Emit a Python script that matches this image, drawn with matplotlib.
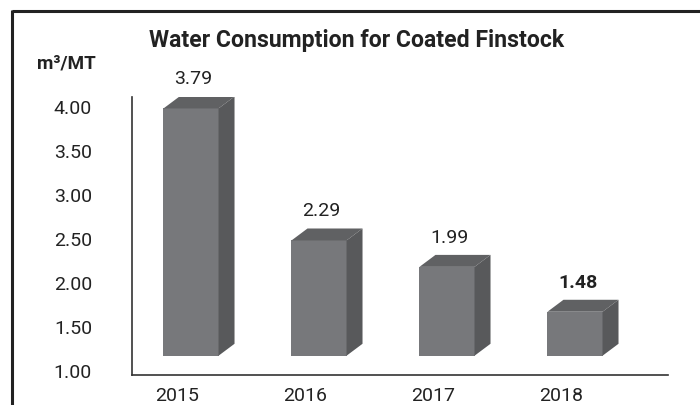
import matplotlib
matplotlib.use("Agg")
import matplotlib.pyplot as plt
import matplotlib.transforms as mtransforms
from matplotlib.patches import Polygon
from matplotlib.lines import Line2D

# ---- data ----
years = ["2015", "2016", "2017", "2018"]
values = [3.79, 2.29, 1.99, 1.48]
bold_flags = [False, False, False, True]
yticks = [1.00, 1.50, 2.00, 2.50, 3.00, 3.50, 4.00]
title = "Water Consumption for Coated Finstock"
unit_label = "m³/MT"

# ---- style ----
FRONT = "#77787b"
TOP = "#606163"
SIDE = "#58595b"
TXT = "#222222"
BAR_W = 0.43
DEPTH_X = 0.125   # data units
DEPTH_Y = 0.136
BASE = 0.98
FS = 14

plt.rcParams['font.family'] = ['Roboto', 'DejaVu Sans']

fig = plt.figure(figsize=(7.0, 4.06), dpi=100)
ax = fig.add_axes([132/700, 30/406, (668-132)/700, (376-98)/406])
ax.set_xlim(-0.3516, 3.836)
ax.set_ylim(0.943, 4.102)

shift = mtransforms.offset_copy(ax.transData, fig=fig, x=14, y=16, units='dots')

for i, v in enumerate(values):
    x0 = i - BAR_W/2
    x1 = i + BAR_W/2
    front = Polygon([(x0, BASE), (x1, BASE), (x1, v), (x0, v)], closed=True,
                    facecolor=FRONT, edgecolor='none', transform=shift, zorder=3)
    top = Polygon([(x0, v), (x1, v), (x1 + DEPTH_X, v + DEPTH_Y), (x0 + DEPTH_X, v + DEPTH_Y)],
                  closed=True, facecolor=TOP, edgecolor='none', transform=shift, zorder=3)
    side = Polygon([(x1, BASE), (x1 + DEPTH_X, BASE + DEPTH_Y), (x1 + DEPTH_X, v + DEPTH_Y), (x1, v)],
                   closed=True, facecolor=SIDE, edgecolor='none', transform=shift, zorder=3)
    for p in (front, top, side):
        ax.add_patch(p)
    ax.annotate(f"{v:.2f}", xy=(i, v), xytext=(12, 29.5), textcoords='offset points',
                ha='center', va='baseline', fontsize=FS, color=TXT,
                fontweight='bold' if bold_flags[i] else 'normal')

ax.set_xticks(range(len(years)))
ax.set_xticklabels(years)
ax.set_yticks(yticks)
ax.set_yticklabels([f"{t:.2f}" for t in yticks])
ax.tick_params(axis='both', length=0, labelsize=FS, labelcolor=TXT)
ax.tick_params(axis='y', pad=28.8)
ax.tick_params(axis='x', pad=8)
for s in ('top', 'right'):
    ax.spines[s].set_visible(False)
for s in ('left', 'bottom'):
    ax.spines[s].set_color('#333333')
    ax.spines[s].set_linewidth(1.2)
ax.set_facecolor('none')

fig.text(357/700, 1 - 40/406, title, ha='center', va='center', fontsize=16.6,
         fontweight='bold', color=TXT)
fig.text(66/700, 1 - 63/406, unit_label, ha='center', va='center', fontsize=13.6,
         fontweight='bold', color=TXT)

# outer frame (top and left edges)
fig.add_artist(Line2D([11.5/700, 1.0], [1 - 12/406, 1 - 12/406], transform=fig.transFigure,
                      color='#222222', linewidth=2.2, solid_capstyle='butt'))
fig.add_artist(Line2D([11.5/700, 11.5/700], [0, 1 - 12/406 + 1.1/406], transform=fig.transFigure,
                      color='#222222', linewidth=2.2, solid_capstyle='butt'))

fig.savefig("out.png", dpi=100)
